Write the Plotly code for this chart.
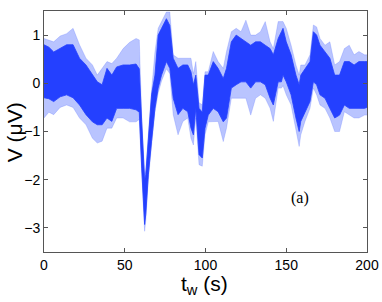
import plotly.graph_objects as go

# Time (s) sample points of the envelope
t = [0, 3, 6, 10, 14, 18, 22, 26, 30, 33, 36, 39, 42, 45, 49, 53, 57, 59,
     60.5, 61.5, 62.3, 63, 64.6, 66.6, 68.7, 70.7, 72.8, 75.8, 77.9, 80,
     83, 86, 89, 91, 92.5, 94, 96, 98, 99.7, 101.7, 104.8, 107.8, 111, 113,
     116, 119, 122, 125, 128, 131, 134, 137, 140, 142, 145, 147, 148, 150,
     153, 156, 158, 159, 161.6, 164.7, 166.8, 168.8, 170.9, 174, 177, 180,
     183, 186, 189, 192, 195, 198.5, 200]
# dense band (upper / lower), microvolts
core_hi = [0.8, 0.75, 0.65, 0.72, 0.8, 0.8, 0.52, 0.38, 0.17, 0.03, -0.03, 0.31, 0.17, 0.34, 0.38, 0.38, 0.4, 0.3,
           -0.8, -1.55, -2.0, -1.9, -1.07, -0.24, 0.17, 1.0, 1.14, 1.34, 1.2, 0.52,
           0.31, 0.38, 0.38, 0.24, -0.03, 0.17, -0.52, -0.6, 0.17, 0.17, 0.45, 0.31, 0.1, 0.31,
           0.86, 1.0, 0.93, 0.86, 0.79, 0.86, 0.86, 0.79, 0.72, 0.59, 0.93, 1.07, 1.14, 0.86,
           0.59, 0.17, -0.03, 0.17, 0.31, 0.45, 1.07, 1.0, 0.79, 0.66, 0.52, 0.17,
           0.17, 0.45, 0.45, 0.38, 0.45, 0.45, 0.45]
core_lo = [-0.3, -0.32, -0.38, -0.28, -0.24, -0.3, -0.45, -0.65, -0.8, -0.86, -0.86, -0.72, -0.79, -0.52, -0.52, -0.52, -0.55, -0.6,
           -1.76, -2.6, -2.93, -2.72, -1.9, -1.2, -0.52, -0.1, 0.17, 0.45, 0.31, -0.31,
           -0.65, -0.52, -0.59, -0.93, -1.07, -0.52, -1.48, -1.55, -0.93, -0.66, -0.52, -0.59, -0.8, -0.72,
           -0.1, -0.03, 0.03, 0.03, -0.1, 0.03, 0.03, -0.03, -0.31, -0.45, 0.03, 0.03, 0.17, 0.03,
           -0.24, -0.72, -1.0, -0.79, -0.59, -0.38, 0.03, -0.03, -0.24, -0.31, -0.52, -0.72,
           -0.66, -0.45, -0.52, -0.52, -0.52, -0.52, -0.5]
# outer spikes (upper / lower), microvolts
spike_hi = [0.93, 0.9, 0.86, 0.98, 1.03, 1.14, 0.8, 0.52, 0.38, 0.17, 0.3, 0.45, 0.41, 0.52, 0.72, 0.85, 0.93, 0.9,
            -0.7, -1.45, -1.9, -1.8, -1.0, -0.15, 0.65, 1.14, 1.28, 1.48, 1.48, 0.59,
            0.52, 0.52, 0.52, 0.52, 0.2, 0.45, -0.4, -0.45, 0.24, 0.24, 0.66, 0.45, 0.31, 0.66,
            1.07, 1.14, 1.07, 1.31, 1.0, 1.0, 1.07, 1.28, 0.86, 0.72, 1.28, 1.28, 1.28, 1.14,
            0.79, 0.38, 0.17, 0.38, 0.38, 0.59, 1.21, 1.17, 0.93, 0.79, 0.86, 0.38,
            0.45, 0.72, 0.79, 0.59, 0.66, 0.59, 0.59]
spike_lo = [-0.72, -0.6, -0.65, -0.5, -0.45, -0.5, -0.72, -0.86, -1.14, -1.24, -1.2, -0.93, -0.93, -0.72, -0.72, -0.8, -0.8, -0.75,
            -1.85, -2.7, -3.07, -2.85, -2.0, -1.3, -0.6, -0.2, 0.05, 0.3, 0.2, -0.65,
            -1.07, -0.79, -0.72, -1.14, -1.28, -0.72, -1.69, -1.72, -1.07, -0.8, -0.79, -0.79, -1.21, -0.93,
            -0.31, -0.31, -0.31, -0.31, -0.66, -0.31, -0.24, -0.31, -0.52, -0.79, -0.1, -0.1, -0.05, -0.24,
            -0.45, -0.93, -1.31, -1.07, -0.79, -0.52, -0.1, -0.24, -0.45, -0.52, -0.72, -1.0,
            -1.0, -0.59, -0.66, -0.72, -0.72, -0.66, -0.66]

x_ticks = [0, 50, 100, 150, 200]
y_ticks = [-3, -2, -1, 0, 1]

blue = "rgb(36,64,255)"
light = "rgba(70,100,255,0.38)"
sans = "Liberation Sans, Arial, sans-serif"

fig = go.Figure()
fig.add_trace(go.Scatter(x=t, y=spike_lo, mode="lines", line=dict(width=0.6, color=light),
                         showlegend=False, hoverinfo="skip"))
fig.add_trace(go.Scatter(x=t, y=spike_hi, mode="lines", line=dict(width=0.6, color=light),
                         fill="tonexty", fillcolor=light, showlegend=False))
fig.add_trace(go.Scatter(x=t, y=core_lo, mode="lines", line=dict(width=0.8, color=blue),
                         showlegend=False, hoverinfo="skip"))
fig.add_trace(go.Scatter(x=t, y=core_hi, mode="lines", line=dict(width=0.8, color=blue),
                         fill="tonexty", fillcolor=blue, showlegend=False))

fig.add_annotation(x=158.5, y=-2.37, text="(a)", showarrow=False, xanchor="center", yanchor="middle",
                   font=dict(family="Liberation Serif, Times New Roman, serif", size=16, color="black"))
# axis titles
fig.add_annotation(xref="paper", yref="paper", x=-0.089, y=0.498, text="V (μV)", textangle=-90,
                   xanchor="center", yanchor="middle",
                   showarrow=False, font=dict(family=sans, size=21, color="black"))
fig.add_annotation(xref="paper", yref="paper", x=0.498, y=-0.2, text="t<sub>w</sub> (s)",
                   xanchor="center", yanchor="bottom",
                   showarrow=False, font=dict(family=sans, size=21, color="black"))

axis_common = dict(showgrid=False, zeroline=False, showline=True, mirror="ticks", automargin=False,
                   linecolor="#555", linewidth=1, ticks="inside", ticklen=4, tickcolor="#555",
                   tickfont=dict(family=sans, size=14, color="black"))

fig.update_layout(
    width=382, height=302,
    margin=dict(l=44, r=15, t=11, b=50),
    paper_bgcolor="white", plot_bgcolor="white",
    xaxis=dict(range=[0, 200], tickvals=x_ticks, **axis_common),
    yaxis=dict(range=[-3.5, 1.5], tickvals=y_ticks, **axis_common),
)

fig.write_html("out.html", config={"displayModeBar": False},
               post_script="document.body.style.margin='0px';document.body.style.overflow='hidden';")
